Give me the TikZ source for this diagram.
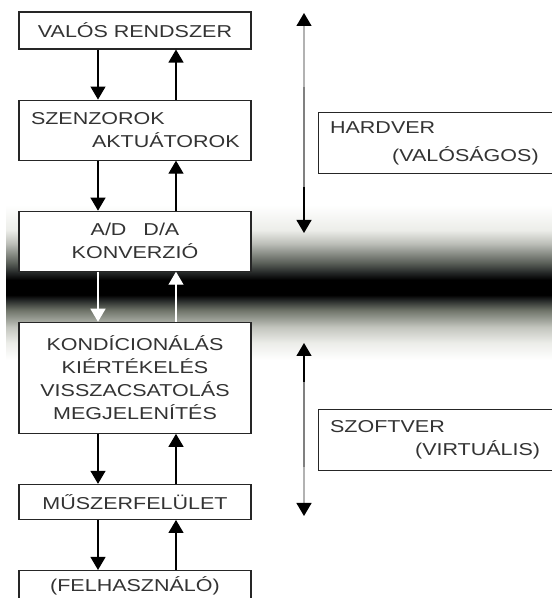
\documentclass[tikz,border=0pt]{standalone}
\usepackage{fontspec}
\setmainfont{Liberation Sans}[FakeStretch=1.25]
\usetikzlibrary{arrows.meta, positioning}

\definecolor{fadeA}{RGB}{236,237,233}
\definecolor{fadeB}{RGB}{195,197,190}
\definecolor{fadeC}{RGB}{110,115,104}
\definecolor{fadeD}{RGB}{35,38,38}
\definecolor{fadeE}{RGB}{90,95,88}
\definecolor{fadeF}{RGB}{190,192,186}
\pgfdeclareverticalshading{bandfade}{100bp}{color(0bp)=(white); color(25bp)=(white);
  color(30.5bp)=(fadeA); color(35.6bp)=(fadeB); color(41.1bp)=(fadeC); color(44.4bp)=(fadeD);
  color(46bp)=(black); color(50.8bp)=(black); color(53.1bp)=(fadeD); color(56.3bp)=(fadeE);
  color(62.7bp)=(fadeF); color(66.9bp)=(fadeA); color(75bp)=(white); color(100bp)=(white)}

\begin{document}
\begin{tikzpicture}[
  x=1pt, y=1pt,
  node distance=50pt,
  box/.style={rectangle, draw=black!85, line width=1.1pt, fill=white, text=black!80,
    font=\fontsize{17.2}{23}\selectfont, text width=208pt, inner xsep=12pt, inner ysep=0pt,
    align=center},
  sidebox/.style={box, text width=210pt, align=left},
  arrow/.style={line width=1.2pt, -{Triangle[width=15pt,length=13pt]}},
  twoway/.style={line width=1.2pt}
]
\useasboundingbox (0,0) rectangle (552,598);
\clip (0,0) rectangle (552,598);

% dark band between hardware and software
\shade[shading=bandfade] (6,238) rectangle (552,393);

\node (valos) [box, minimum height=37pt] at (135,567.5) {VALÓS RENDSZER};
\node (szenzor) [box, below=of valos, minimum height=60pt, align=left]
  {SZENZOROK\\\mbox{\hspace*{61pt}AKTUÁTOROK}};
\node (konv) [box, below=of szenzor, minimum height=60pt] {A/D\hspace{17pt}D/A\\KONVERZIÓ};
\node (kond) [box, below=of konv, minimum height=111pt]
  {KONDÍCIONÁLÁS\\KIÉRTÉKELÉS\\VISSZACSATOLÁS\\MEGJELENÍTÉS};
\node (muszer) [box, below=of kond, minimum height=35pt] {MŰSZERFELÜLET};
\node (felh) [box, below=of muszer, text height=21.3pt, text depth=22pt] {(FELHASZNÁLÓ)};

\node (hw) [sidebox, right=66pt of szenzor, yshift=-13pt, minimum height=61.6pt]
  {HARDVER\\[5pt]\mbox{\hspace*{62pt}(VALÓSÁGOS)}};
\node (sw) [sidebox, right=66pt of kond, yshift=-62pt, minimum height=61pt]
  {SZOFTVER\\\mbox{\hspace*{85pt}(VIRTUÁLIS)}};

\draw [arrow] ([xshift=-37pt]valos.south) -- ([xshift=-37pt]szenzor.north);
\draw [arrow] ([xshift=41pt]szenzor.north) -- ([xshift=41pt]valos.south);
\draw [arrow] ([xshift=-37pt]szenzor.south) -- ([xshift=-37pt]konv.north);
\draw [arrow] ([xshift=41pt]konv.north) -- ([xshift=41pt]szenzor.south);
\draw [arrow, white] ([xshift=-37pt]konv.south) -- ([xshift=-37pt]kond.north);
\draw [arrow, white] ([xshift=41pt]kond.north) -- ([xshift=41pt]konv.south);
\draw [arrow] ([xshift=-37pt]kond.south) -- ([xshift=-37pt]muszer.north);
\draw [arrow] ([xshift=41pt]muszer.north) -- ([xshift=41pt]kond.south);
\draw [arrow] ([xshift=-37pt]muszer.south) -- ([xshift=-37pt]felh.north);
\draw [arrow] ([xshift=41pt]felh.north) -- ([xshift=41pt]muszer.south);

% hardware / software ranges
\coordinate (hwtop) at (304,585);
\coordinate (hwa) at (304,511);
\coordinate (hwb) at (304,411);
\coordinate (hwbot) at (304,365);
\coordinate (swtop) at (304,255);
\coordinate (swa) at (304,216);
\coordinate (swb) at (304,131);
\coordinate (swbot) at (304,82);

\draw [twoway, black!30, {Triangle[width=15pt,length=13pt,color=black]}-] (hwtop) -- (hwa);
\draw [twoway, black!50] (hwa) -- (hwb);
\draw [arrow, black] (hwb) -- (hwbot);
\draw [arrow, black] (swa) -- (swtop);
\draw [twoway, black!50] (swa) -- (swb);
\draw [twoway, black!30, -{Triangle[width=15pt,length=13pt,color=black]}] (swb) -- (swbot);
\end{tikzpicture}
\end{document}
